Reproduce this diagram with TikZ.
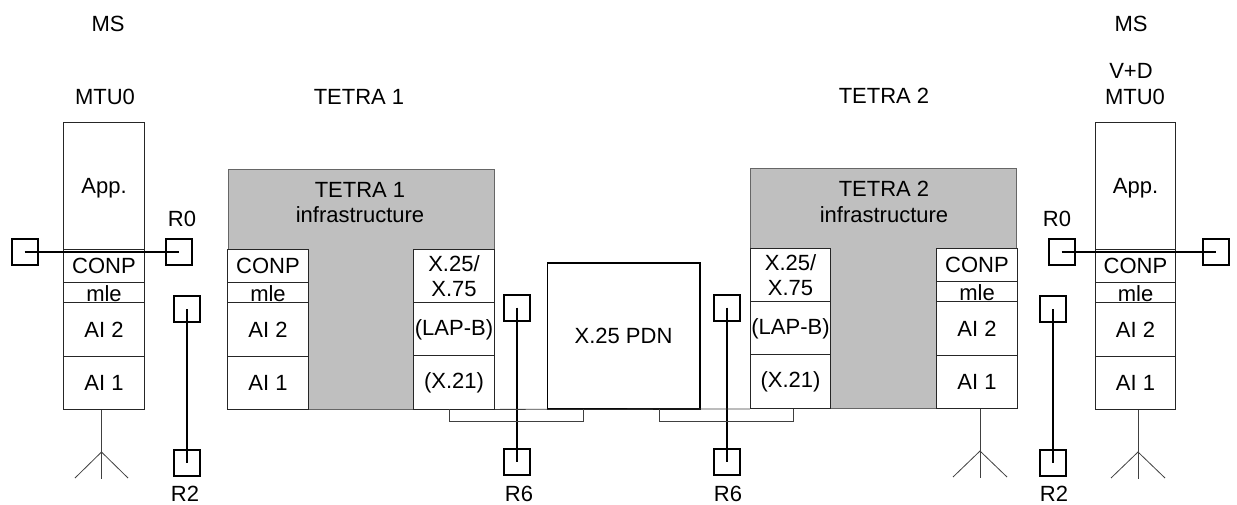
\documentclass[tikz,border=0pt]{standalone}
\usepackage{fontspec}
\setmainfont{Liberation Sans}
\usepackage{tikz}

\begin{document}
\begin{tikzpicture}[x=0.75pt, y=-0.75pt, font=\fontsize{16.5}{19}\selectfont]

\tikzstyle{cell}   = [rectangle, draw=black!85, line width=0.6pt, fill=white,
                       minimum width=60.5pt, inner sep=0pt, align=center]
\tikzstyle{appbox} = [cell, minimum height=95.2pt, text depth=0pt]
\tikzstyle{conp}   = [cell, minimum height=24.7pt]
\tikzstyle{mle}    = [cell, minimum height=15pt, text height=13.6pt, text depth=0pt]
\tikzstyle{layer}  = [cell, minimum height=40pt]
\tikzstyle{infra}  = [rectangle, draw=black!60, line width=0.6pt, fill=black!25,
                       minimum width=200pt, minimum height=180pt, inner sep=0pt]
\tikzstyle{refpt}  = [rectangle, draw, line width=1.5pt, fill=none,
                       minimum size=19.5pt, inner sep=0pt]
\tikzstyle{txt}    = [inner sep=0pt, align=center]
\tikzstyle{wire}   = [line width=1.5pt]
\tikzstyle{thin}   = [line width=0.6pt, draw=black!75]

\useasboundingbox (0,0) rectangle (1237,504);

% ── Top labels ────────────────────────────────────────
\node[txt] (ms1)    at (108,24)   {MS};
\node[txt] (ms2)    at (1131,24)  {MS};
\node[txt] (mtu1)   at (105,97)   {MTU0};
\node[txt] (vd)     at (1131,71)  {V+D};
\node[txt] (mtu2)   at (1135,97)  {MTU0};
\node[txt] (tetra1) at (359,97)   {TETRA 1};
\node[txt] (tetra2) at (884,96)   {TETRA 2};

% ── Grey infrastructure blocks ────────────────────────
\node[infra] (infra1) at (361.5,289)   {};
\node[infra] (infra2) at (883.5,288.5) {};
\node[txt] (infra1txt) at (360,202.5) {TETRA 1\\infrastructure};
\node[txt] (infra2txt) at (884,202)   {TETRA 2\\infrastructure};

% ── Left MS stack ─────────────────────────────────────
\node[appbox] (app1) at (104,185.5) {App.};
\node[conp]  (conp1) at (104,265.5) {CONP};
\node[mle]   (mle1)  at (104,292)   {mle};
\node[layer] (ai21)  at (104,329.5) {AI 2};
\node[layer] (ai11)  at (104,383)   {AI 1};

% ── TETRA 1: left stack ───────────────────────────────
\node[conp]  (conp2) at (268,265.5) {CONP};
\node[mle]   (mle2)  at (268,292)   {mle};
\node[layer] (ai22)  at (268,329.5) {AI 2};
\node[layer] (ai12)  at (268,383)   {AI 1};

% ── TETRA 1: right stack ──────────────────────────────
\node[cell, minimum height=40.5pt] (x251) at (454,276)   {X.25/\\X.75};
\node[layer] (lapb1) at (454,329.5) {(LAP-B)};
\node[layer] (x211)  at (454,382.5) {(X.21)};

% ── Centre network ────────────────────────────────────
\node[rectangle, draw, line width=1pt, fill=white, minimum width=114.5pt,
      minimum height=109.5pt] (pdn) at (623.5,336) {X.25 PDN};

% ── TETRA 2: left stack ───────────────────────────────
\node[cell, minimum height=40.5pt] (x252) at (790.5,275) {X.25/\\X.75};
\node[layer] (lapb2) at (790.5,328.5) {(LAP-B)};
\node[layer] (x212)  at (790.5,381.5) {(X.21)};

% ── TETRA 2: right stack ──────────────────────────────
\node[conp]  (conp3) at (977,264.5) {CONP};
\node[mle]   (mle3)  at (977,291)   {mle};
\node[layer] (ai23)  at (977,328.5) {AI 2};
\node[layer] (ai13)  at (977,382)   {AI 1};

% ── Right MS stack ────────────────────────────────────
\node[appbox] (app2) at (1135.5,185.5) {App.};
\node[conp]  (conp4) at (1135.5,265.5) {CONP};
\node[mle]   (mle4)  at (1135.5,292)   {mle};
\node[layer] (ai24)  at (1135.5,329.5) {AI 2};
\node[layer] (ai14)  at (1135.5,383)   {AI 1};

% ── Reference points ──────────────────────────────────
\node[refpt] (r0a) at (24.5,251.5)   {};
\node[refpt] (r0b) at (178.5,251.5)  {};
\node[refpt] (r2a) at (186.5,309)    {};
\node[refpt] (r2b) at (186.5,462.5)  {};
\node[refpt] (r6a) at (516.5,307.5)  {};
\node[refpt] (r6b) at (516.5,461.5)  {};
\node[refpt] (r6c) at (726.5,307.5)  {};
\node[refpt] (r6d) at (726.5,461.5)  {};
\node[refpt] (r2c) at (1052.5,309)   {};
\node[refpt] (r2d) at (1052.5,462.5) {};
\node[refpt] (r0c) at (1061.5,251.5) {};
\node[refpt] (r0d) at (1215.5,251.5) {};

\node[txt] (r0lab1) at (182,219)   {R0};
\node[txt] (r2lab1) at (185,494)   {R2};
\node[txt] (r6lab1) at (519,494)   {R6};
\node[txt] (r6lab2) at (728,494)   {R6};
\node[txt] (r2lab2) at (1054,494)  {R2};
\node[txt] (r0lab2) at (1057,219)  {R0};

% ── Wires between reference points ────────────────────
\draw[wire] (r0a.center) -- (r0b.center);
\draw[wire] (r0c.center) -- (r0d.center);
\draw[wire] (r2a.center) -- (r2b.center);
\draw[wire] (r2c.center) -- (r2d.center);
\draw[wire] (r6a.center) -- (r6b.center);
\draw[wire] (r6c.center) -- (r6d.center);

% ── Baseline and brackets under the network ───────────
\coordinate (brk1a) at (449,409);
\coordinate (brk1b) at (583,409);
\coordinate (brk2a) at (659,409);
\coordinate (brk2b) at (793,409);
\draw[thin] (infra1.south east) -- (infra2.south west);
\draw[thin] (brk1a) -- ++(0,12) -| (brk1b);
\draw[thin] (brk2a) -- ++(0,12) -| (brk2b);

% ── Antennas ──────────────────────────────────────────
\coordinate (ant1) at (101.5,452);
\coordinate (ant2) at (980,451);
\coordinate (ant3) at (1138,452);
\draw[thin] (ant1 |- ai11.south) -- ++(0,69);
\draw[thin] (75,478) -- (ant1) -- (128,478);
\draw[thin] (ant2 |- ai13.south) -- ++(0,69);
\draw[thin] (953,477) -- (ant2) -- (1007,477);
\draw[thin] (ant3 |- ai14.south) -- ++(0,69);
\draw[thin] (1111,478) -- (ant3) -- (1165,478);

\end{tikzpicture}
\end{document}
